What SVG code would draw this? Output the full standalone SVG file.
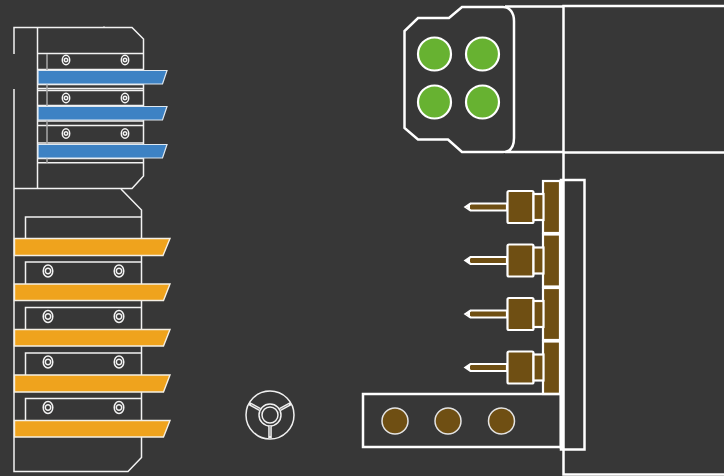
<svg xmlns="http://www.w3.org/2000/svg" width="724" height="476" viewBox="0 0 724 476">
<style>
.t{fill:none;stroke:#f2f2f2;stroke-width:1.500}
.m{fill:none;stroke:#fff;stroke-width:2.500}
.blue{fill:#3d82c4;stroke:#dfe8f0;stroke-width:1.200}
.or{fill:#efa31d;stroke:#f4efe4;stroke-width:1.400}
.br{fill:#6f4f13;stroke:#fff;stroke-width:2.200}
.gr{fill:#67b231;stroke:#fff;stroke-width:2.200}
.ho{fill:none;stroke:#f2f2f2;stroke-width:1.500}
</style>
<defs>
<g id="hole"><ellipse class="ho" rx="3.700" ry="4.800"/><circle class="ho" r="1.700"/></g>
<g id="hole2"><ellipse class="ho" rx="4.800" ry="6"/><circle class="ho" r="2.700"/></g>
<g id="pin">
<path class="br" d="M507 -3.500H470.500L465.500 0L470.500 3.500H507Z"/>
<path d="M466 0L470 -2.500V2.500Z" fill="#fff"/>
<rect class="br" x="507.500" y="-16" width="26" height="32" rx="1.500"/>
<rect class="br" x="533.500" y="-13" width="10" height="26"/>
</g>
</defs>
<rect width="724" height="476" fill="#373737"/>
<g id="upper-bracket">
<path class="t" d="M14 54V27.500H132L143.500 39V176L132 188.500H14V89"/>
<path class="t" d="M104 26.500V27.500"/>
<path class="t" d="M37.500 27.500V188.500"/>
<path class="t" d="M38 53.500H143.500M38 69.500H143.500M38 84.500H143.500M38 88.500H143.500M38 90.500H143.500M38 105.500H143.500M38 121H143.500M38 125.500H143.500M38 143H143.500M38 158.500H143.500M38 162.800H143.500"/>
<path d="M47 54V163" stroke="#a8a8a8" stroke-width="1.500" fill="none"/>
<use href="#hole" x="66" y="60"/><use href="#hole" x="125" y="60"/>
<use href="#hole" x="66" y="98"/><use href="#hole" x="125" y="98"/>
<use href="#hole" x="66" y="133.500"/><use href="#hole" x="125" y="133.500"/>
</g>
<g id="blue-bars">
<path class="blue" d="M38 70.500H167L162.500 84H38Z"/>
<path class="blue" d="M38 106.500H167L162.500 120H38Z"/>
<path class="blue" d="M38 144.500H167L162.500 158H38Z"/>
</g>
<g id="lower-bracket">
<path class="t" d="M14 189V471.500H128L141.500 457.500V210L121 189"/>
<path class="t" d="M25.500 238V217H141.500"/>
<path class="t" d="M25.500 284V262H141.500M25.500 329V307.500H141.500M25.500 375V353H141.500M25.500 420V398.500H141.500"/>
<use href="#hole2" x="48" y="271"/><use href="#hole2" x="119" y="271"/>
<use href="#hole2" x="48" y="316.500"/><use href="#hole2" x="119" y="316.500"/>
<use href="#hole2" x="48" y="362"/><use href="#hole2" x="119" y="362"/>
<use href="#hole2" x="48" y="407.500"/><use href="#hole2" x="119" y="407.500"/>
</g>
<g id="orange-bars">
<path class="or" d="M14.500 238.500H170L163 255.500H14.500Z"/>
<path class="or" d="M14.500 284H170L163.500 300.500H14.500Z"/>
<path class="or" d="M14.500 329.500H170L163.500 346H14.500Z"/>
<path class="or" d="M14.500 375H170L163.500 392H14.500Z"/>
<path class="or" d="M14.500 420.500H170L163.500 437H14.500Z"/>
</g>
<g id="hub" fill="none" stroke="#f0f0f0">
<circle cx="270" cy="415" r="24" stroke-width="1.500"/>
<circle cx="270" cy="415" r="11" stroke-width="1.500"/>
<circle cx="270" cy="415" r="8" stroke-width="1.500"/>
<path stroke-width="3.600" d="M270 426V438M260 409.500L249 403.500M280 409.500L291 403.500"/>
<path stroke="#8a8a8a" stroke-width="1" d="M270 426V436M260 409.500L251 404.500M280 409.500L289 404.500"/>
</g>
<g id="right-frame">
<path class="m" d="M724 6H563.500V474.500H724M563.500 152.500H724"/>
<path class="m" d="M505 6.500H563.500M505 152H563.500"/>
</g>
<g id="connector-head">
<path class="m" d="M462 7H503C510 7 514 13 514 21V138C514 147 510 152 503 152H462L448 139.500H418L404.500 128V31L418 18H449Z"/>
<circle class="gr" cx="434.500" cy="54" r="16.500"/>
<circle class="gr" cx="482.500" cy="54" r="16.500"/>
<circle class="gr" cx="434.500" cy="102" r="16.500"/>
<circle class="gr" cx="482.500" cy="102" r="16.500"/>
</g>
<g id="terminal-strip">
<rect class="br" x="543" y="181" width="17" height="52"/>
<rect class="br" x="543" y="234.500" width="17" height="52"/>
<rect class="br" x="543" y="288" width="17" height="52"/>
<rect class="br" x="543" y="341.500" width="17" height="52.500"/>
<use href="#pin" y="207"/>
<use href="#pin" y="260.500"/>
<use href="#pin" y="314"/>
<use href="#pin" y="367.500"/>
<rect class="m" x="561" y="180" width="23.500" height="269.500"/>
<path d="M561.500 180V449" stroke="#fff" stroke-width="3.500"/>
</g>
<g id="base-plate">
<rect class="m" x="363" y="394" width="198" height="53"/>
<circle cx="395" cy="421" r="13" fill="#6f4f13" stroke="#e4e4e4" stroke-width="1.500"/>
<circle cx="448" cy="421" r="13" fill="#6f4f13" stroke="#e4e4e4" stroke-width="1.500"/>
<circle cx="501.500" cy="421" r="13" fill="#6f4f13" stroke="#e4e4e4" stroke-width="1.500"/>
</g>
</svg>
